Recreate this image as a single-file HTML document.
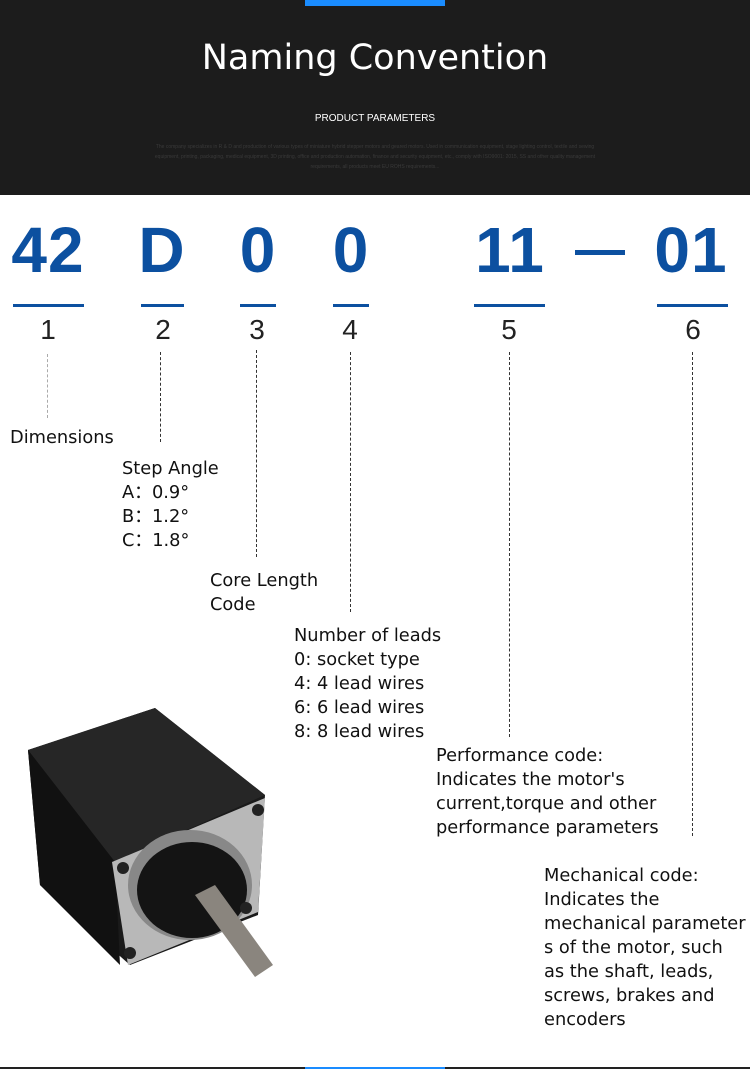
<!DOCTYPE html>
<html><head><meta charset="utf-8"><style>
*{margin:0;padding:0}
body{width:750px;height:1069px;position:relative;background:#fff;overflow:hidden;font-family:"Liberation Sans","DejaVu Sans",sans-serif}
.a{position:absolute}
.big{position:absolute;top:212px;font-size:64px;font-weight:bold;color:#0c50a0;text-align:center;line-height:76px;letter-spacing:1px}
.ul{position:absolute;top:304px;height:3px;background:#0c50a0}
.n{position:absolute;top:312px;font-size:28px;color:#222;text-align:center;line-height:36px;width:40px}
.d{position:absolute;width:0;border-left:1px dashed #333}
.t{position:absolute;font-family:"DejaVu Sans","Liberation Sans",sans-serif;font-size:17.8px;line-height:24px;color:#111}
</style></head><body>
<div class="a" style="left:0;top:0;width:750px;height:195px;background:#1c1c1c"></div>
<div class="a" style="left:305px;top:0;width:140px;height:6px;background:#1a8cff"></div>
<div class="a" style="left:0;top:33px;width:750px;text-align:center;color:#fff;font-size:35px;font-family:'DejaVu Sans',sans-serif;line-height:50px">Naming Convention</div>
<div class="a" style="left:0;top:113px;width:750px;text-align:center;color:#fff;font-size:10px;line-height:12px">PRODUCT PARAMETERS</div>
<div class="a" style="left:150px;top:142px;width:450px;text-align:center;color:#3a3a3a;font-size:5px;line-height:10px">The company specializes in R &amp; D and production of various types of miniature hybrid stepper motors and geared motors. Used in communication equipment, stage lighting control, textile and sewing equipment, printing, packaging, medical equipment, 3D printing, office and production automation, finance and security equipment, etc., comply with ISO9001: 2015, SS and other quality management requirements, all products meet EU ROHS requirements...</div>

<div class="big" style="left:8px;width:80px">42</div>
<div class="big" style="left:132px;width:60px">D</div>
<div class="big" style="left:228px;width:60px">0</div>
<div class="big" style="left:321px;width:60px">0</div>
<div class="big" style="left:470px;width:80px">11</div>
<div class="a" style="left:575px;top:250px;width:50px;height:5px;background:#0c50a0"></div>
<div class="big" style="left:651px;width:80px">01</div>

<div class="ul" style="left:13px;width:71px"></div>
<div class="ul" style="left:141px;width:43px"></div>
<div class="ul" style="left:240px;width:36px"></div>
<div class="ul" style="left:333px;width:36px"></div>
<div class="ul" style="left:474px;width:71px"></div>
<div class="ul" style="left:657px;width:71px"></div>

<div class="n" style="left:28px">1</div>
<div class="n" style="left:143px">2</div>
<div class="n" style="left:237px">3</div>
<div class="n" style="left:330px">4</div>
<div class="n" style="left:489px">5</div>
<div class="n" style="left:673px">6</div>

<div class="d" style="left:47px;top:354px;height:64px;border-left-color:#aaa"></div>
<div class="d" style="left:160px;top:352px;height:90px"></div>
<div class="d" style="left:256px;top:350px;height:207px"></div>
<div class="d" style="left:350px;top:352px;height:260px"></div>
<div class="d" style="left:509px;top:352px;height:385px"></div>
<div class="d" style="left:692px;top:352px;height:484px"></div>

<div class="t" style="left:10px;top:426px">Dimensions</div>
<div class="t" style="left:122px;top:457px">Step Angle<br>A：0.9°<br>B：1.2°<br>C：1.8°</div>
<div class="t" style="left:210px;top:569px">Core Length<br>Code</div>
<div class="t" style="left:294px;top:624px">Number of leads<br>0: socket type<br>4: 4 lead wires<br>6: 6 lead wires<br>8: 8 lead wires</div>
<div class="t" style="left:436px;top:744px">Performance code:<br>Indicates the motor's<br>current,torque and other<br>performance parameters</div>
<div class="t" style="left:544px;top:864px">Mechanical code:<br>Indicates the<br>mechanical parameter<br>s of the motor, such<br>as the shaft, leads,<br>screws, brakes and<br>encoders</div>

<svg class="a" style="left:0;top:680px" width="300" height="300" viewBox="0 0 300 300">
<polygon points="28,70 155,28 265,115 258,235 130,285 40,205" fill="#1a1a1a"/>
<polygon points="28,70 155,28 265,115 115,182" fill="#262626"/>
<polygon points="28,70 115,182 120,285 40,205" fill="#111"/>
<polygon points="112,182 265,118 258,232 128,285" fill="#b8b8b8"/>
<ellipse cx="190" cy="205" rx="62" ry="55" fill="#888"/>
<ellipse cx="192" cy="210" rx="55" ry="48" fill="#141414"/>
<circle cx="258" cy="130" r="6" fill="#222"/>
<circle cx="123" cy="188" r="6" fill="#222"/>
<circle cx="130" cy="273" r="6" fill="#222"/>
<circle cx="246" cy="228" r="6" fill="#222"/>
<polygon points="195,215 215,205 273,285 255,297" fill="#8a857e"/>
</svg>

<div class="a" style="left:0;top:1067px;width:750px;height:2px;background:#222"></div>
<div class="a" style="left:305px;top:1067px;width:140px;height:2px;background:#1a8cff"></div>
</body></html>
